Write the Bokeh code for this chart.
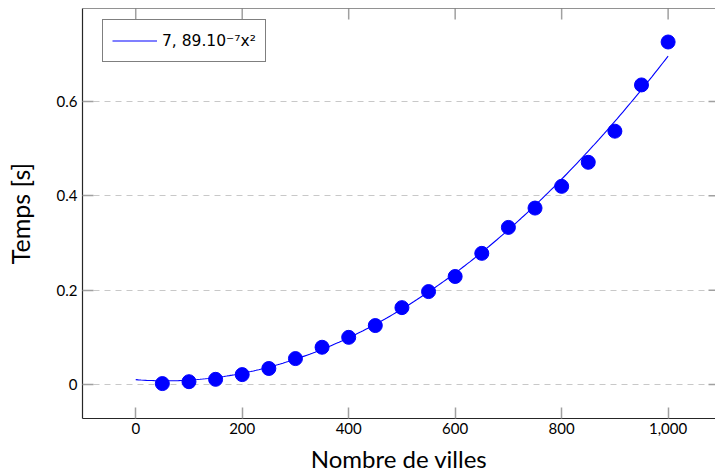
import numpy as np
from bokeh.plotting import figure
from bokeh.models import (FixedTicker, NumeralTickFormatter, CustomJSTickFormatter,
                          LinearAxis, Legend, LegendItem, Range1d, Span)
from bokeh.embed import file_html
from bokeh.resources import INLINE

# ---- data ----
villes = [50, 100, 150, 200, 250, 300, 350, 400, 450, 500,
          550, 600, 650, 700, 750, 800, 850, 900, 950, 1000]
temps = [0.002, 0.006, 0.011, 0.021, 0.034, 0.055, 0.079, 0.100, 0.125, 0.163,
         0.197, 0.229, 0.278, 0.333, 0.374, 0.420, 0.471, 0.537, 0.635, 0.726]
# quadratic fit coefficients  y = a x^2 + b x + c
fit_a = 7.726e-7
fit_b = -8.69e-5
fit_c = 0.0103
fit_x_min, fit_x_max = 0, 1000
fit_label = "7, 89.10⁻⁷x²"
x_ticks = [0, 200, 400, 600, 800, 1000]
y_ticks = [0, 0.2, 0.4, 0.6]
x_lim = (-100, 1089)
y_lim = (-0.072, 0.797)

fx = np.linspace(fit_x_min, fit_x_max, 200)
fy = fit_a * fx**2 + fit_b * fx + fit_c

FONT = "Lato"
TICK_COLOR = "#a0a0a0"
FRAME_COLOR = "#262626"
W, H = 715, 476
B_LEFT, B_RIGHT, B_TOP, B_BOTTOM = 82, 0, 8, 58
TICK_LEN = 11

p = figure(width=W, height=H, output_backend="svg", toolbar_location=None,
           x_range=Range1d(*x_lim), y_range=Range1d(*y_lim),
           min_border_left=B_LEFT, min_border_right=B_RIGHT, min_border_top=B_TOP,
           min_border_bottom=B_BOTTOM, x_axis_location=None, y_axis_location=None)
p.outline_line_color = None
p.background_fill_color = "white"
p.border_fill_color = "white"

p.ygrid.ticker = FixedTicker(ticks=y_ticks)
p.ygrid.grid_line_color = "#c8c8c8"
p.ygrid.grid_line_dash = "6 5"
p.ygrid.grid_line_width = 1.2
p.xgrid.grid_line_color = None

# ticks on top and right edges (inward), lengths converted from pixels
px_x = (x_lim[1] - x_lim[0]) / (W - B_LEFT - B_RIGHT)
px_y = (y_lim[1] - y_lim[0]) / (H - B_TOP - B_BOTTOM)
p.segment(x0=x_ticks, x1=x_ticks, y0=[y_lim[1]] * len(x_ticks),
          y1=[y_lim[1] - TICK_LEN * px_y] * len(x_ticks),
          line_color=TICK_COLOR, line_width=1.5)
p.segment(x0=[x_lim[1] - 7 * px_x] * len(y_ticks), x1=[x_lim[1]] * len(y_ticks),
          y0=y_ticks, y1=y_ticks, line_color=TICK_COLOR, line_width=1.5)
p.add_layout(Span(location=y_lim[1], dimension="width",
                  line_color=FRAME_COLOR, line_width=1.2))

line_r = p.line(fx, fy, line_color="#0000ff", line_width=1.1)
p.scatter(villes, temps, size=14, fill_color="#0000ff", line_color="#0000ff")

def style_axis(ax, ticks):
    ax.ticker = FixedTicker(ticks=ticks)
    ax.major_tick_in = TICK_LEN
    ax.major_tick_out = 0
    ax.minor_tick_line_color = None
    ax.major_tick_line_color = TICK_COLOR
    ax.major_tick_line_width = 1.5
    ax.axis_line_color = FRAME_COLOR
    ax.axis_line_width = 1.2
    ax.major_label_text_font = FONT
    ax.major_label_text_color = "black"
    ax.axis_label_text_font = FONT
    ax.axis_label_text_font_style = "normal"
    ax.axis_label_text_color = "black"

xb = LinearAxis(axis_label="Nombre de villes")
style_axis(xb, x_ticks)
xb.formatter = NumeralTickFormatter(format="0,0")
xb.major_label_text_font_size = "15px"
xb.major_label_standoff = 4
xb.axis_label_text_font_size = "24px"
xb.axis_label_standoff = 7
p.add_layout(xb, "below")

yl = LinearAxis(axis_label="Temps [s]")
style_axis(yl, y_ticks)
yl.formatter = CustomJSTickFormatter(code="return tick.toFixed(1).replace(/\\.0$/, '');")
yl.major_label_text_font_size = "15px"
yl.major_label_standoff = 5
yl.axis_label_text_font_size = "25px"
yl.axis_label_standoff = 19
p.add_layout(yl, "left")

legend = Legend(items=[LegendItem(label=fit_label, renderers=[line_r])],
                location=(20, 356))
legend.margin = 0
legend.padding = 9
legend.spacing = 0
legend.glyph_width = 45
legend.glyph_height = 23
legend.label_height = 23
legend.label_standoff = 5
legend.label_text_font = "DejaVu Sans"
legend.label_text_font_size = "15.5px"
legend.label_text_color = "black"
legend.border_line_color = "black"
legend.border_line_width = 1.2
legend.background_fill_alpha = 1
p.add_layout(legend, "center")

open("out.html", "w").write(file_html(p, INLINE))
